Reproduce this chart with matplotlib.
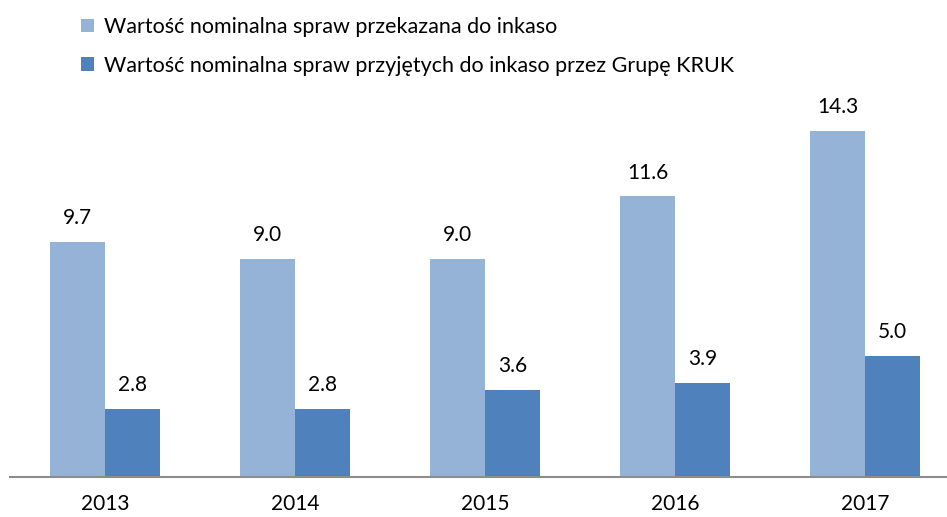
import matplotlib.pyplot as plt
import numpy as np

plt.rcParams['font.family'] = ['Lato', 'DejaVu Sans']

years = ['2013', '2014', '2015', '2016', '2017']
przekazana = [9.7, 9.0, 9.0, 11.6, 14.3]
przyjete = [2.8, 2.8, 3.6, 3.9, 5.0]
labels = ['Wartość nominalna spraw przekazana do inkaso',
          'Wartość nominalna spraw przyjętych do inkaso przez Grupę KRUK']

c_light = '#95B3D7'
c_dark = '#4F81BD'

fig = plt.figure(figsize=(9.47, 5.17), dpi=100)
W, H = 947, 517
ax = fig.add_axes([10 / W, 40 / H, 937 / W, 387 / H])

x = np.arange(len(years))
w = 0.29
b1 = ax.bar(x - w / 2, przekazana, w, color=c_light, label=labels[0])
b2 = ax.bar(x + w / 2, przyjete, w, color=c_dark, label=labels[1])

for bars, vals in [(b1, przekazana), (b2, przyjete)]:
    for r, v in zip(bars, vals):
        ax.annotate(f'{v:.1f}', (r.get_x() + r.get_width() / 2, v),
                    xytext=(0, 10), textcoords='offset points',
                    ha='center', va='bottom', fontsize=15)

ax.set_xlim(-0.5, 4.5 - 13 / 190)
ax.set_ylim(0, 16)
ax.set_xticks(x)
ax.set_xticklabels(years, fontsize=15)
ax.tick_params(axis='x', length=0, pad=12)
ax.set_yticks([])
for s in ['top', 'right', 'left']:
    ax.spines[s].set_visible(False)
ax.spines['bottom'].set_color('#8C8C8C')
ax.spines['bottom'].set_linewidth(1.5)

ax.legend(loc='upper left', bbox_to_anchor=(64 / W, 1.0), bbox_transform=fig.transFigure,
          frameon=False, fontsize=15.5, handlelength=0.6, handleheight=0.6,
          handletextpad=0.45, labelspacing=0.85, borderaxespad=0.4)

fig.savefig('out.png', dpi=100)
